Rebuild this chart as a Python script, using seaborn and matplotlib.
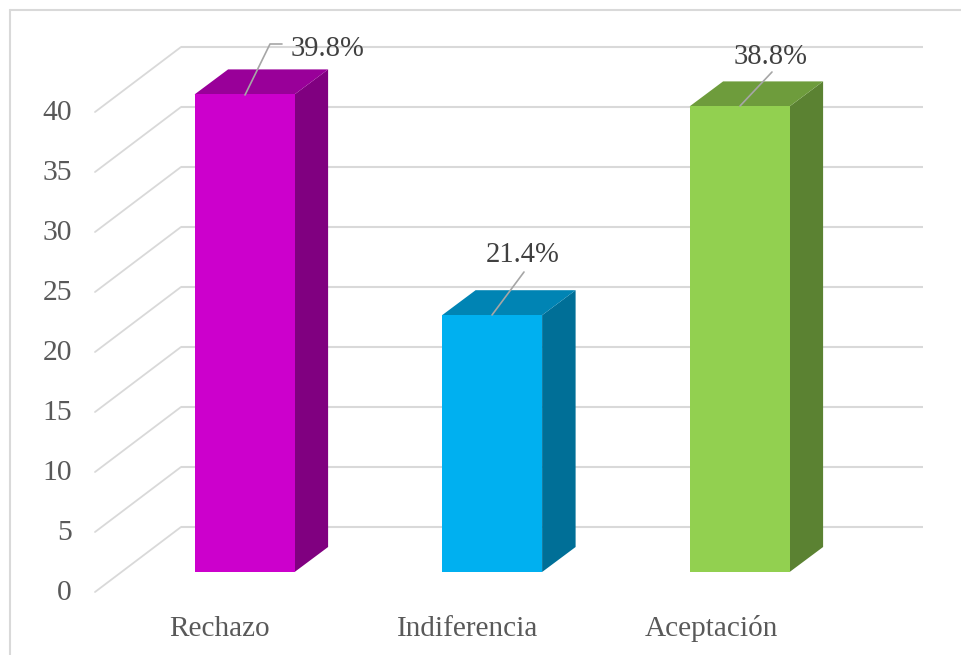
import matplotlib
matplotlib.use('Agg')
import matplotlib.pyplot as plt
import seaborn as sns
import pandas as pd
from matplotlib.lines import Line2D

# data
categories = ['Rechazo', 'Indiferencia', 'Aceptación']
values = [39.8, 21.4, 38.8]
y_ticks = [0, 5, 10, 15, 20, 25, 30, 35, 40]

front_colors = ['#CC00CC', '#00B0F0', '#92D050']
top_colors = ['#990099', '#0084B4', '#6E9C3C']
side_colors = ['#800080', '#006F97', '#5B8232']

sns.set_theme(style='white')
plt.rcParams['font.family'] = ['Liberation Serif', 'DejaVu Serif']

W, H = 961, 655
PX_PER_CAT = 247.5
PX_PER_UNIT = 12.0
X0_PX, Y0_PX = 244.6, 572.0


def cx(px):
    return (px - X0_PX) / PX_PER_CAT


def cy(py):
    return (Y0_PX - py) / PX_PER_UNIT


fig = plt.figure(figsize=(W / 100, H / 100), dpi=100)
ax = fig.add_axes([0, 0, 1, 1])

df = pd.DataFrame({'categoria': categories, 'valor': values})
sns.barplot(data=df, x='categoria', y='valor', hue='categoria', order=categories,
            hue_order=categories, palette=front_colors, saturation=1, width=100 / PX_PER_CAT,
            legend=False, ax=ax, zorder=4, linewidth=0)
ax.set_xlim(cx(0), cx(W))
ax.set_ylim(cy(H), cy(0))
ax.axis('off')

# walls of the 3D box
GRID = '#D9D9D9'
back_dy = 45 / PX_PER_UNIT
front_dy = 20 / PX_PER_UNIT
for v in y_ticks:
    ax.plot([cx(181), cx(923)], [v + back_dy, v + back_dy], color=GRID, lw=1.5, zorder=1,
            solid_capstyle='butt')
    ax.plot([cx(95), cx(181)], [v - front_dy, v + back_dy], color=GRID, lw=1.3, zorder=1)
    ax.text(cx(72), v - front_dy - 0.1, str(v), ha='right', va='center', fontsize=21.3,
            color='#595959')

# side and top faces of each bar
depth_x = 33.5 / PX_PER_CAT
depth_y = 25 / PX_PER_UNIT
for bar, top_c, side_c in zip(ax.patches, top_colors, side_colors):
    x0 = bar.get_x()
    x1 = x0 + bar.get_width()
    h = bar.get_height()
    ax.fill([x1, x1 + depth_x, x1 + depth_x, x1], [0, depth_y, h + depth_y, h],
            color=side_c, lw=0, zorder=3)
    ax.fill([x0, x0 + depth_x, x1 + depth_x, x1], [h, h + depth_y, h + depth_y, h],
            color=top_c, lw=0, zorder=3)

# category labels
cat_label_px = [220, 467.5, 711]
for name, lx in zip(categories, cat_label_px):
    ax.text(cx(lx), cy(629), name, ha='center', va='center', fontsize=21.1, color='#595959')

# value labels and leader lines
label_px = [(327, 49), (523, 255.5), (770.5, 56.5)]
leader_px = [[(245, 95), (270, 44), (282, 44)],
             [(492, 315), (524, 272)],
             [(740, 106), (772, 72)]]
for val, (lx, ly), pts in zip(values, label_px, leader_px):
    ax.plot([cx(p[0]) for p in pts], [cy(p[1]) for p in pts], color='#A6A6A6', lw=1.2, zorder=5)
    ax.text(cx(lx), cy(ly), f'{val}%', ha='center', va='center', fontsize=20.6, color='#404040',
            zorder=6)

# chart frame, only left and top show in the crop
fig.add_artist(Line2D([10 / W, 10 / W], [0, 1 - 10 / H], color=GRID, lw=1.5))
fig.add_artist(Line2D([10 / W, 1], [1 - 10 / H, 1 - 10 / H], color=GRID, lw=1.5))

plt.savefig('out.png', dpi=100)
